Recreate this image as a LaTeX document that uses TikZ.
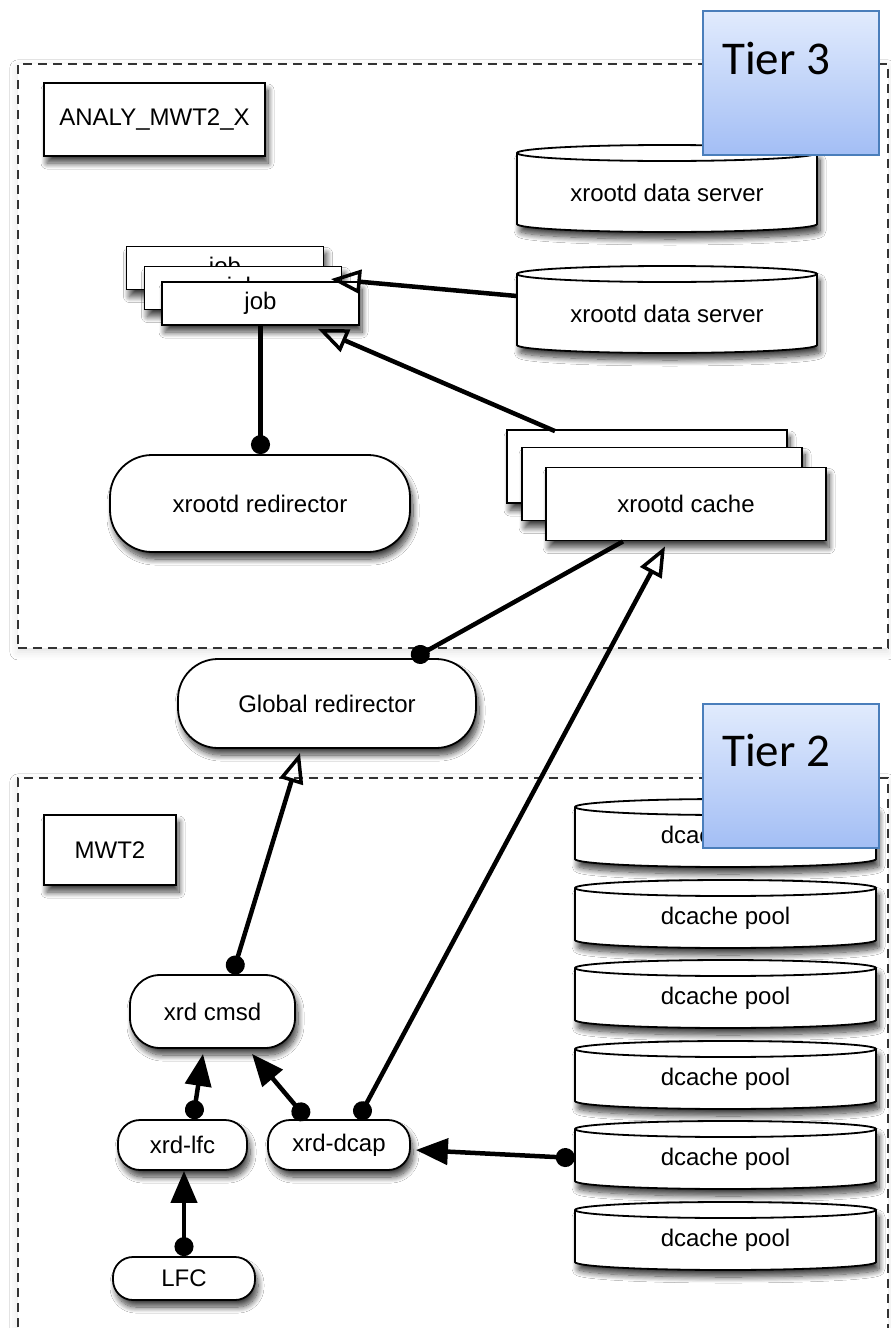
\documentclass[tikz,border=0pt]{standalone}
\usepackage{fontspec}
\newfontfamily\helv{Liberation Sans}
\newfontfamily\calib{Carlito}
\usetikzlibrary{arrows.meta,shadows.blur}

\definecolor{tierblue}{HTML}{4A7EBB}
\definecolor{tiertop}{HTML}{E1EBFD}
\definecolor{tierbot}{HTML}{A3BEF5}

\tikzset{
  lbl/.style={font=\helv\fontsize{24}{28}\selectfont, text=black},
  shd/.style={blur shadow={shadow xshift=3pt, shadow yshift=-7pt,
      shadow blur radius=6pt, shadow blur steps=12, shadow opacity=75}},
  plainbox/.style={lbl, draw=black, line width=1.8pt, fill=white, shd, inner sep=0pt},
  pill/.style={plainbox, rounded corners=#1},
  pill/.default=20pt,
  drumskin/.style={draw=black, line width=1.8pt, fill=white, shd},
  tierframe/.style={draw=black!80, line width=1.8pt, dash pattern=on 9pt off 6pt,
      fill=white, blur shadow={shadow xshift=0pt, shadow yshift=-4pt,
      shadow blur radius=8pt, shadow opacity=12}, inner sep=0pt, anchor=north west},
  tierbox/.style={draw=tierblue, line width=1.5pt, top color=tiertop, bottom color=tierbot,
      minimum width=176pt, minimum height=144pt, inner sep=0pt, anchor=north west},
  tiertext/.style={font=\calib\fontsize{47}{50}\selectfont, anchor=base west, inner sep=0pt},
  wire/.style={line width=4.5pt, draw=black},
  balltip/.tip={Circle[length=19pt]},
  hollowtip/.tip={Triangle[open, length=30pt, width=24pt, line width=3.5pt]},
  headtip/.tip={Triangle[length=32pt, width=26pt]},
}

% storage drum: name, left x, top y, width, height, label
\newcommand{\drum}[6]{%
  \path[drumskin] (#2,{-(#3+8)}) -- (#2,{-(#3+#5-8)})
     arc[start angle=180, end angle=360, x radius={#4/2*1pt}, y radius=8pt]
     -- ({#2+#4},{-(#3+8)})
     arc[start angle=0, end angle=180, x radius={#4/2*1pt}, y radius=8pt] -- cycle;
  \draw[line width=1.8pt] (#2,{-(#3+8)})
     arc[start angle=180, end angle=360, x radius={#4/2*1pt}, y radius=8pt];
  \node[lbl, minimum width=#4pt, inner sep=0pt] (#1) at ({#2+#4/2},{-(#3+8+(#5-8)/2)}) {#6};
}

\begin{document}
\begin{tikzpicture}[x=1pt, y=1pt]
\useasboundingbox (0,0) rectangle (891,-1328);
\clip (0,0) rectangle (891,-1328);
\fill[white] (0,0) rectangle (891,-1328);

% site frames
\node[tierframe, minimum width=870pt, minimum height=584pt] (tier3) at (17,-63) {};
\node[tierframe, minimum width=870pt, minimum height=600pt] (tier2) at (17,-777) {};

% ---- Tier 3 site ----
\node[plainbox, minimum width=221pt, minimum height=73pt] (analy) at (154.5,-119.5) {ANALY\_MWT2\_X};

\drum{ds1}{517}{145}{300}{87}{xrootd data server}
\drum{ds2}{517}{266}{300}{87}{xrootd data server}

\node[plainbox, minimum width=197pt, minimum height=43pt] (jobA) at (225,-268) {job};
\node[plainbox, minimum width=197pt, minimum height=43pt] (jobB) at (243,-288) {job};
\node[plainbox, minimum width=197pt, minimum height=43pt] (jobC) at (260.5,-303.5) {job};

\node[plainbox, minimum width=280pt, minimum height=73pt] (cacheA) at (647,-466.5) {};
\node[plainbox, minimum width=280pt, minimum height=73pt] (cacheB) at (662,-484) {};
\node[plainbox, minimum width=280pt, minimum height=73pt] (cacheC) at (686,-504) {xrootd cache};

\node[pill=42pt, minimum width=300pt, minimum height=97pt] (redir) at (260,-503.5) {xrootd redirector};

% ---- global ----
\node[pill=40pt, minimum width=298pt, minimum height=89pt] (glob) at (327,-703.5) {Global redirector};

% ---- Tier 2 site ----
\node[plainbox, minimum width=132pt, minimum height=70pt] (mwt) at (110,-850) {MWT2};

\drum{pool1}{575}{799}{301}{68}{dcache pool}
\drum{pool2}{575}{880}{301}{68}{dcache pool}
\drum{pool3}{575}{960}{301}{68}{dcache pool}
\drum{pool4}{575}{1041}{301}{68}{dcache pool}
\drum{pool5}{575}{1121}{301}{68}{dcache pool}
\drum{pool6}{575}{1202}{301}{68}{dcache pool}

\node[pill=30pt, minimum width=165pt, minimum height=73pt] (cmsd) at (212.5,-1011.5) {xrd cmsd};
\node[pill=22pt, minimum width=129pt, minimum height=50pt] (xlfc) at (182.5,-1145) {xrd-lfc};
\node[pill=22pt, minimum width=142pt, minimum height=50pt] (dcap) at (339,-1145) {xrd-dcap};
\node[pill=20pt, minimum width=142pt, minimum height=43pt] (lfc) at (184,-1278.5) {LFC};

% ---- connectors ----
\draw[wire, -hollowtip] ([yshift=17.5]ds2.west) -- ([xshift=-29,yshift=2]jobC.north east);
\draw[wire, -hollowtip] ([xshift=-92,yshift=-2]cacheA.north) -- ([xshift=57.5,yshift=-3]jobC.south);
\draw[wire, -balltip] (jobC.south) -- (jobC.south |- redir.north);
\draw[wire, -balltip] ([xshift=-63]cacheC.south) -- ([xshift=85,yshift=-1]glob.north);
\draw[wire, balltip-hollowtip] ([xshift=19]dcap.north) -- ([xshift=-21,yshift=-5]cacheC.south);
\draw[wire, balltip-hollowtip] ([xshift=20]cmsd.north) -- ([xshift=-27,yshift=-4]glob.south);
\draw[wire, balltip-headtip] (lfc.north) -- (lfc.north |- xlfc.south);
\draw[wire, balltip-headtip] ([xshift=10.5]xlfc.north) -- ([xshift=-9.5,yshift=-5]cmsd.south);
\draw[wire, balltip-headtip] ([xshift=-32]dcap.north) -- ([xshift=39.5,yshift=-5]cmsd.south);
\draw[wire, balltip-headtip] ([yshift=1]pool5.west) -- ([xshift=5,yshift=-5]dcap.east);

% ---- tier labels ----
\node[tierbox] (t3) at (702,-10) {};
\node[tiertext] (t3txt) at ([xshift=20,yshift=-64]t3.north west) {Tier 3};
\node[tierbox] (t2) at (702,-703) {};
\node[tiertext] (t2txt) at ([xshift=20,yshift=-63]t2.north west) {Tier 2};
\end{tikzpicture}
\end{document}
